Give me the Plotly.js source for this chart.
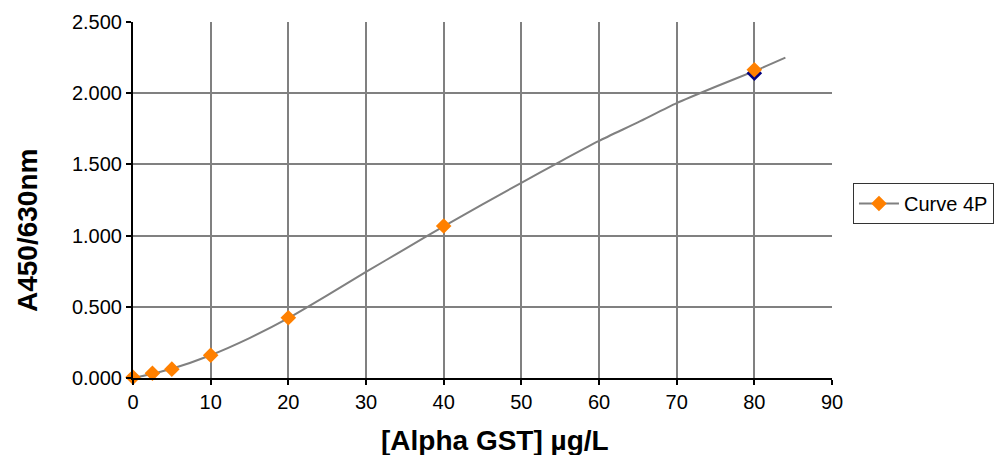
<!DOCTYPE html>
<html>
<head>
<meta charset="utf-8">
<script src="https://cdn.plot.ly/plotly-3.0.1.min.js"></script>
<style>html,body{margin:0;padding:0;background:#fff;}#chart{width:997px;height:455px;}</style>
</head>
<body>
<div id="chart"></div>
<script>
// Standard points (concentration, absorbance)
var stdX = [0, 2.5, 5, 10, 20, 40, 80];
var stdY = [0.005, 0.033, 0.062, 0.16, 0.423, 1.067, 2.165];
// Replicate shown underneath at 80
var repX = [80];
var repY = [2.14];
// Fitted 4P curve
var curveX = [0, 2.5, 5, 10, 15, 20, 25, 30, 35, 40, 45, 50, 55, 60, 65, 70, 75, 80, 84];
var curveY = [0.0, 0.03, 0.065, 0.16, 0.28, 0.42, 0.58, 0.745, 0.905, 1.065, 1.22, 1.37, 1.52, 1.665, 1.795, 1.93, 2.045, 2.155, 2.25];
var xTickVals = [0, 10, 20, 30, 40, 50, 60, 70, 80, 90];
var yTickVals = [0, 0.5, 1.0, 1.5, 2.0, 2.5];
var seriesName = 'Curve 4P';
var xTitle = '[Alpha GST] µg/L';
var yTitle = 'A450/630nm';

var FONT = 'Liberation Sans, Arial, sans-serif';
var GRAY = '#808080';
var ORANGE = '#FF8000';

var traces = [
  {x: curveX, y: curveY, mode: 'lines', line: {color: GRAY, width: 2, shape: 'spline', smoothing: 0.6}, showlegend: false, hoverinfo: 'skip'},
  {x: repX, y: repY, mode: 'markers', marker: {symbol: 'diamond', size: 12, color: '#000080'}, showlegend: false, cliponaxis: false},
  {x: stdX, y: stdY, mode: 'markers', marker: {symbol: 'diamond', size: 12, color: ORANGE}, showlegend: false, cliponaxis: false},
  {x: [null], y: [null], mode: 'lines+markers', name: seriesName, line: {color: GRAY, width: 2}, marker: {symbol: 'diamond', size: 12, color: ORANGE}, showlegend: true}
];

var axisCommon = {
  showgrid: true, gridcolor: GRAY, gridwidth: 2,
  showline: true, linecolor: '#000', linewidth: 2,
  ticks: 'outside', ticklen: 5, tickwidth: 2, tickcolor: '#000',
  tickfont: {family: FONT, size: 20, color: '#000'},
  zeroline: false, fixedrange: true, automargin: false
};

var titleFont = {family: FONT, size: 28, weight: 700, color: '#000'};

var layout = {
  width: 997, height: 455,
  margin: {l: 133, r: 165, t: 22, b: 77, autoexpand: false},
  paper_bgcolor: '#fff', plot_bgcolor: '#fff',
  font: {family: FONT, color: '#000'},
  xaxis: Object.assign({}, axisCommon, {range: [0, 90], tickvals: xTickVals}),
  yaxis: Object.assign({}, axisCommon, {range: [0, 2.5], tickvals: yTickVals, tickformat: '.3f'}),
  annotations: [
    {text: xTitle, xref: 'paper', yref: 'paper', x: 0.5, y: 0, xshift: 12, yshift: -62,
     xanchor: 'center', yanchor: 'middle', showarrow: false, font: titleFont},
    {text: yTitle, xref: 'paper', yref: 'paper', x: 0, y: 0.5, xshift: -106, yshift: -31,
     xanchor: 'center', yanchor: 'middle', textangle: -90, showarrow: false, font: titleFont}
  ],
  showlegend: true,
  legend: {
    x: 1.03, xanchor: 'left', y: 0.49, yanchor: 'middle',
    bordercolor: '#333', borderwidth: 1, bgcolor: '#fff', itemwidth: 40,
    font: {family: FONT, size: 20, color: '#000'}
  }
};

Plotly.newPlot('chart', traces, layout, {displayModeBar: false, staticPlot: true});
</script>
</body>
</html>
